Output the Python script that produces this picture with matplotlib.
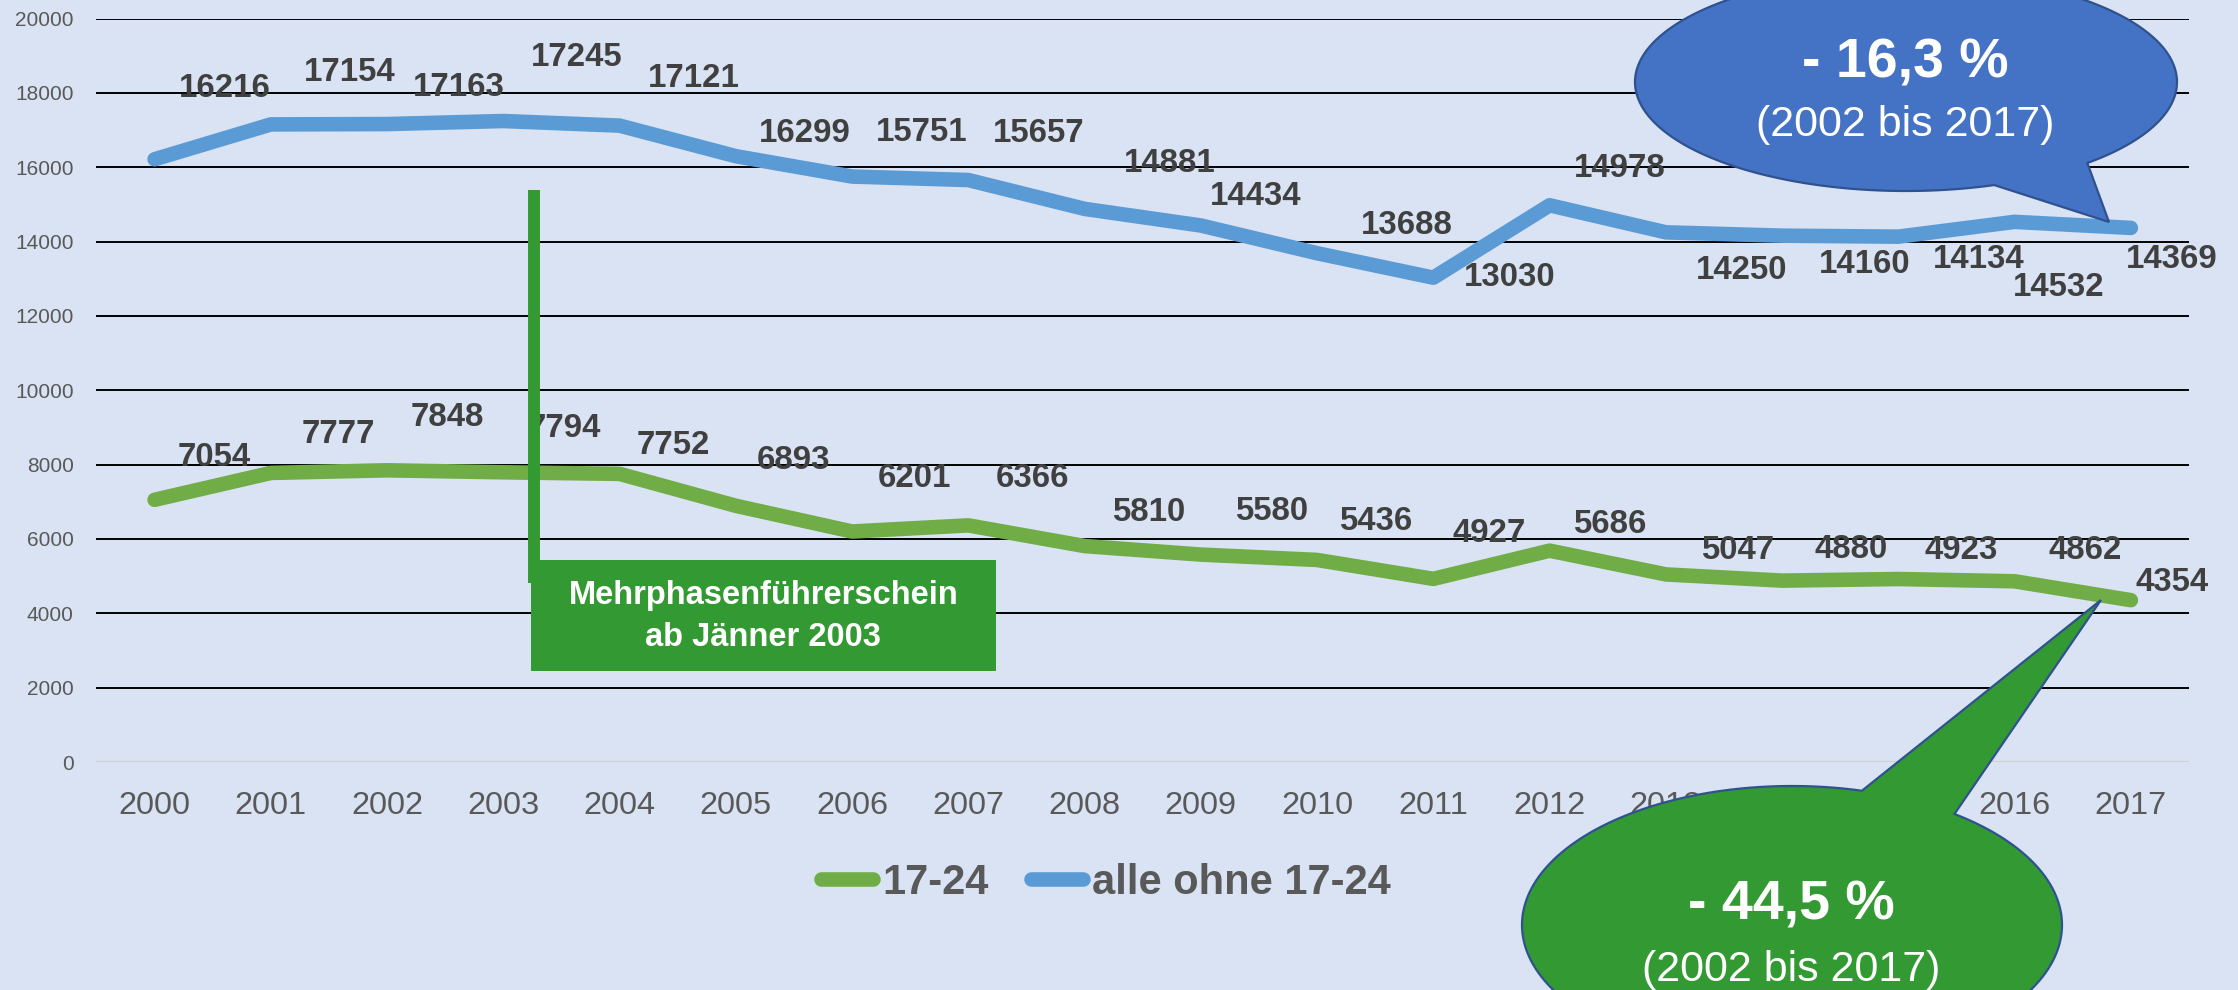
import numpy as np
import matplotlib
matplotlib.use('Agg')
import matplotlib.pyplot as plt
from matplotlib.patches import Polygon, Rectangle

plt.rcParams['font.family'] = ['Liberation Sans', 'DejaVu Sans']

# data
years = [str(y) for y in range(2000, 2018)]
young = [7054, 7777, 7848, 7794, 7752, 6893, 6201, 6366, 5810, 5580,
         5436, 4927, 5686, 5047, 4880, 4923, 4862, 4354]
others = [16216, 17154, 17163, 17245, 17121, 16299, 15751, 15657, 14881, 14434,
          13688, 13030, 14978, 14250, 14160, 14134, 14532, 14369]

# label offsets in pixels (dx, dy downwards)
young_off = [(60, -42), (68, -38), (60, -53), (61, -44), (54, -28), (58, -45),
             (62, -53), (64, -47), (64, -34), (71, -43), (59, -38), (56, -45),
             (60, -26), (72, -24), (69, -31), (63, -29), (71, -31), (41, -18)]
others_off = [(70, -71), (79, -52), (72, -37), (73, -64), (74, -47), (69, -23),
              (70, -44), (70, -47), (85, -45), (55, -29), (90, -28), (76, 0),
              (70, -37), (76, 38), (83, 29), (80, 23), (44, 66), (41, 32)]

bg = '#dae3f3'
green = '#70ad47'
blue = '#5b9bd5'
dark_green = '#339933'
grey = '#595959'

fig = plt.figure(figsize=(22.38, 9.9), dpi=100, facecolor=bg)
ax = fig.add_axes([0.0431, 0.2303, 0.9350, 0.7509])
ax.set_facecolor(bg)

x = np.arange(len(years))
ax.plot(x, young, color=green, lw=10.5, solid_capstyle='round', solid_joinstyle='round',
        label='17-24', zorder=3)
ax.plot(x, others, color=blue, lw=10.5, solid_capstyle='round', solid_joinstyle='round',
        label='alle ohne 17-24', zorder=3)

for xi, v, (dx, dy) in zip(x, young, young_off):
    ax.annotate(str(v), (xi, v), xytext=(dx, -dy), textcoords='offset pixels',
                ha='center', va='center', fontsize=23.8, fontweight='bold',
                color='#404040', annotation_clip=False, zorder=4)
for xi, v, (dx, dy) in zip(x, others, others_off):
    ax.annotate(str(v), (xi, v), xytext=(dx, -dy), textcoords='offset pixels',
                ha='center', va='center', fontsize=23.8, fontweight='bold',
                color='#404040', annotation_clip=False, zorder=4)

ax.set_xlim(-0.5, len(years) - 0.5)
ax.set_ylim(0, 20000)
ax.set_yticks(range(0, 20001, 2000))
ax.set_xticks(x)
ax.set_xticklabels(years)
for v in range(2000, 20001, 2000):
    ax.axhline(v, color='black', lw=1.4, zorder=1)
ax.axhline(0, color='#d0d0d0', lw=1.5, zorder=1)
for s in ax.spines.values():
    s.set_visible(False)
ax.tick_params(axis='y', length=0, pad=16.5, labelsize=15, labelcolor=grey)
ax.tick_params(axis='x', length=0, pad=21, labelsize=23.4, labelcolor=grey)

# Mehrphasenfuehrerschein marker
ax.plot([3.263, 3.263], [4815, 15387], color=dark_green, lw=8.6,
        solid_capstyle='butt', zorder=5)
ax.add_patch(Rectangle((3.237, 2448), 7.235 - 3.237, 5434 - 2448,
                       facecolor=dark_green, edgecolor='none', zorder=6))
ax.text(5.236, 3914, 'Mehrphasenführerschein\nab Jänner 2003', ha='center', va='center',
        color='white', fontsize=23.5, fontweight='bold', linespacing=1.45, zorder=7)

leg = ax.legend(loc='center', bbox_to_anchor=(1106 / 2238, 1 - 883 / 990),
                bbox_transform=fig.transFigure, ncol=2, frameon=False,
                prop={'size': 30, 'weight': 'bold'}, labelcolor=grey,
                handlelength=1.25, handletextpad=0.22, columnspacing=1.0)

# speech bubbles, drawn in pixel coordinates over the whole figure
ov = fig.add_axes([0, 0, 1, 1], zorder=10)
ov.set_xlim(0, 2238)
ov.set_ylim(990, 0)
ov.axis('off')


def bubble(cx, cy, rx, ry, a_from, a_to, tip, color):
    t = np.radians(np.linspace(a_from, a_to, 300))
    pts = np.column_stack([cx + rx * np.cos(t), cy + ry * np.sin(t)])
    pts = np.vstack([pts, tip])
    ov.add_patch(Polygon(pts, closed=True, facecolor=color, edgecolor='#2f528f',
                         lw=1.6, clip_on=False))


bubble(1906, 82, 271, 109, 71, 408, (2109, 222), '#4472c4')
ov.text(1905, 64, '- 16,3 %', ha='center', va='center', color='white',
        fontsize=40, fontweight='bold')
ov.text(1905, 125, '(2002 bis 2017)', ha='center', va='center', color='white',
        fontsize=31)

bubble(1792, 925, 270, 139, -53, 285, (2101, 600), dark_green)
ov.text(1791, 906, '- 44,5 %', ha='center', va='center', color='white',
        fontsize=40, fontweight='bold')
ov.text(1791, 970, '(2002 bis 2017)', ha='center', va='center', color='white',
        fontsize=31)

fig.savefig('out.png', dpi=100, facecolor=bg)
